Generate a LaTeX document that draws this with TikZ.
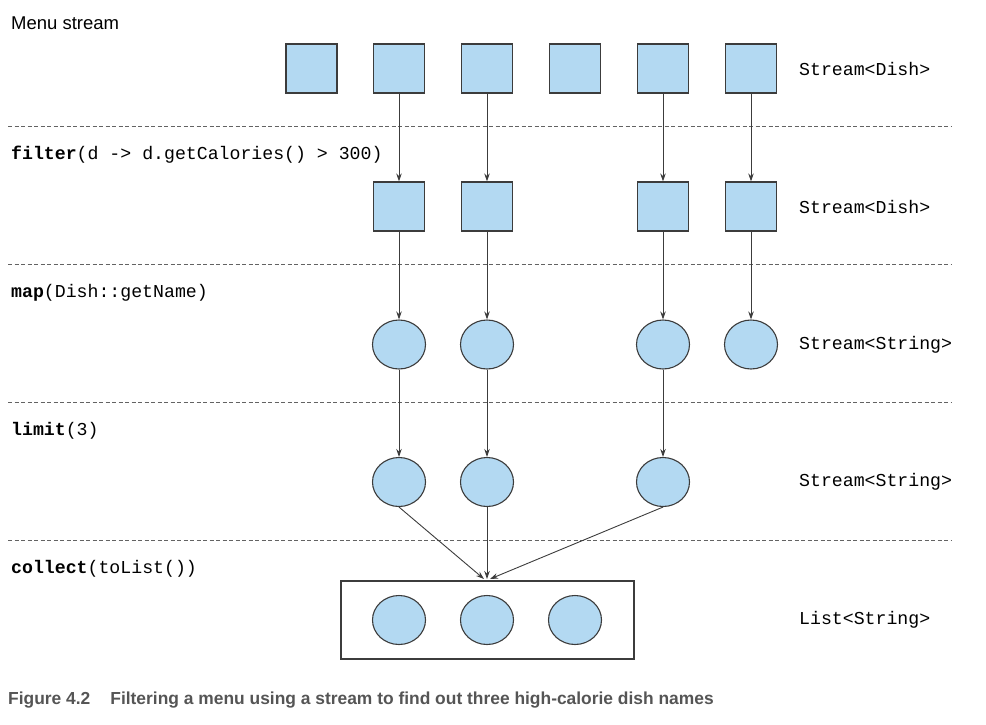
\documentclass[tikz,border=0pt]{standalone}
\usepackage{fontspec}
\setmainfont{Liberation Sans}
\newfontfamily\codefont{Liberation Mono}
\usetikzlibrary{shapes.geometric,arrows.meta}
\definecolor{dishfill}{HTML}{B3D9F2}
\definecolor{edge}{HTML}{3C3C3C}
\definecolor{captiongray}{HTML}{555555}
\begin{document}
\begin{tikzpicture}[x=1pt,y=-1pt,
  dishbox/.style={draw=edge,line width=1.2pt,fill=dishfill,minimum width=51pt,minimum height=49pt,inner sep=0pt},
  namebub/.style={ellipse,draw=edge,line width=1.1pt,fill=dishfill,minimum width=53pt,minimum height=49pt,inner sep=0pt},
  sep/.style={draw=edge!80,line width=0.8pt,dash pattern=on 4pt off 2.5pt},
  flow/.style={draw=edge,line width=0.9pt,-{Stealth[length=8pt,width=5.5pt]}},
  code/.style={anchor=west,inner sep=0pt,font=\codefont\fontsize{18.2}{20}\selectfont},
  typelbl/.style={code}]
\useasboundingbox (0,0) rectangle (986,724);

% title
\node[anchor=base west,inner sep=0pt,font=\fontsize{18.5}{20}\selectfont] (title) at (11,29) {Menu stream};

% stage separators
\foreach \y in {126,264,402,540}
  \draw[sep] (8,\y) -- (952,\y);

% stage labels
\node[code] (lfilter) at (11,155) {\textbf{filter}(d -> d.getCalories() > 300)};
\node[code] (lmap) at (11,293) {\textbf{map}(Dish::getName)};
\node[code] (llimit) at (11,431) {\textbf{limit}(3)};
\node[code] (lcollect) at (11,569) {\textbf{collect}(toList())};

% type labels
\node[typelbl] (t1) at (799,69) {Stream<Dish>};
\node[typelbl] (t2) at (799,207) {Stream<Dish>};
\node[typelbl] (t3) at (799,345) {Stream<String>};
\node[typelbl] (t4) at (799,482) {Stream<String>};
\node[typelbl] (t5) at (799,620) {List<String>};

% menu dishes
\node[dishbox] (a1) at (311.5,68.5) {};
\node[dishbox] (a2) at (399,68.5) {};
\node[dishbox] (a3) at (487,68.5) {};
\node[dishbox] (a4) at (575,68.5) {};
\node[dishbox] (a5) at (663,68.5) {};
\node[dishbox] (a6) at (751,68.5) {};

% filtered dishes
\node[dishbox] (b2) at (399,206.5) {};
\node[dishbox] (b3) at (487,206.5) {};
\node[dishbox] (b5) at (663,206.5) {};
\node[dishbox] (b6) at (751,206.5) {};

% dish names
\node[namebub] (c2) at (399,344.5) {};
\node[namebub] (c3) at (487,344.5) {};
\node[namebub] (c5) at (663,344.5) {};
\node[namebub] (c6) at (751,344.5) {};

% first three names
\node[namebub] (d2) at (399,482) {};
\node[namebub] (d3) at (487,482) {};
\node[namebub] (d5) at (663,482) {};

% resulting list
\node[draw=edge,line width=1.1pt,minimum width=293pt,minimum height=78pt,inner sep=0pt] (lst) at (487.5,620) {};
\node[namebub] (e1) at (399,620) {};
\node[namebub] (e2) at (487,620) {};
\node[namebub] (e3) at (575,620) {};
\coordinate (inL) at (484,579);
\coordinate (inM) at (487,579);
\coordinate (inR) at (490,579);

% connectors
\foreach \s/\t in {a2/b2,a3/b3,a5/b5,a6/b6,b2/c2,b3/c3,b5/c5,b6/c6,c2/d2,c3/d3,c5/d5}
  \draw[flow] (\s.south) -- (\t.north);
\draw[flow] (d2.south) -- (inL);
\draw[flow] (d3.south) -- (inM);
\draw[flow] (d5.south) -- (inR);

% caption
\node[anchor=west,inner sep=0pt,text=captiongray,font=\bfseries\fontsize{17.4}{20}\selectfont] (cap) at (8,700)
  {Figure 4.2\hspace{1.15em}Filtering a menu using a stream to find out three high-calorie dish names};
\end{tikzpicture}
\end{document}
